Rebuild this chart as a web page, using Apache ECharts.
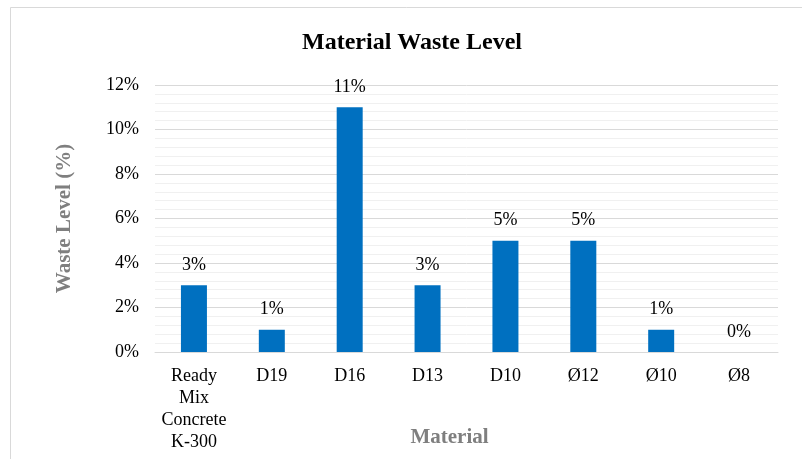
<!DOCTYPE html>
<html>
<head>
<meta charset="utf-8">
<script src="https://cdn.jsdelivr.net/npm/echarts@6/dist/echarts.min.js"></script>
<style>
  html, body { margin: 0; padding: 0; background: #fff; }
  #chart { width: 802px; height: 459px; }
</style>
</head>
<body>
<div id="chart"></div>
<script>
// categories and waste values (%)
var materials = ['Ready\nMix\nConcrete\nK-300', 'D19', 'D16', 'D13', 'D10', 'Ø12', 'Ø10', 'Ø8'];
var wasteLevel = [3, 1, 11, 3, 5, 5, 1, 0];
var yTicks = [0, 2, 4, 6, 8, 10, 12];

var serif = '"Liberation Serif", "Times New Roman", serif';

var myChart = echarts.init(document.getElementById('chart'));

var option = {
  backgroundColor: '#fff',
  animation: false,
  title: {
    text: 'Material Waste Level',
    left: 407,
    top: 26,
    textAlign: 'center',
    textStyle: {
      fontFamily: serif,
      fontSize: 24,
      fontWeight: 'bold',
      color: '#000'
    }
  },
  graphic: [{
    type: 'rect',
    shape: { x: 10.5, y: 7.5, width: 820, height: 480 },
    style: { fill: 'none', stroke: '#d9d9d9', lineWidth: 1 },
    silent: true
  }],
  grid: {
    left: 155,
    right: 24,
    top: 85,
    bottom: 107,
    outerBoundsMode: 'none'
  },
  xAxis: {
    type: 'category',
    data: materials,
    name: 'Material',
    nameLocation: 'middle',
    nameGap: 86,
    nameMoveOverlap: false,
    nameTextStyle: {
      fontFamily: serif,
      fontSize: 21,
      fontWeight: 'bold',
      color: '#7f7f7f',
      verticalAlign: 'middle',
      padding: [0, 0, 0, -34]
    },
    axisLine: { show: true, lineStyle: { color: '#d9d9d9', width: 1 } },
    axisTick: { show: false },
    axisLabel: {
      interval: 0,
      fontFamily: serif,
      fontSize: 18,
      color: '#000',
      margin: 13,
      lineHeight: 22
    }
  },
  yAxis: {
    type: 'value',
    min: yTicks[0],
    max: yTicks[yTicks.length - 1],
    interval: 2,
    name: 'Waste Level (%)',
    nameLocation: 'middle',
    nameGap: 90,
    nameRotate: 90,
    nameMoveOverlap: false,
    nameTextStyle: {
      fontFamily: serif,
      fontSize: 21,
      fontWeight: 'bold',
      color: '#7f7f7f',
      verticalAlign: 'middle'
    },
    axisLine: { show: false },
    axisTick: { show: false },
    axisLabel: {
      fontFamily: serif,
      fontSize: 18,
      color: '#000',
      margin: 16,
      formatter: function (v) { return v + '%'; }
    },
    splitLine: { show: true, lineStyle: { color: '#d9d9d9', width: 1 } },
    minorTick: { show: false, splitNumber: 5 },
    minorSplitLine: { show: true, lineStyle: { color: '#f0f0f0', width: 1 } }
  },
  series: [{
    type: 'bar',
    data: wasteLevel,
    barWidth: 26,
    itemStyle: { color: '#0070C0' },
    label: {
      show: true,
      position: 'top',
      distance: 11,
      fontFamily: serif,
      fontSize: 18,
      color: '#000',
      formatter: function (p) { return p.value + '%'; }
    }
  }]
};

myChart.setOption(option, true);
</script>
</body>
</html>
